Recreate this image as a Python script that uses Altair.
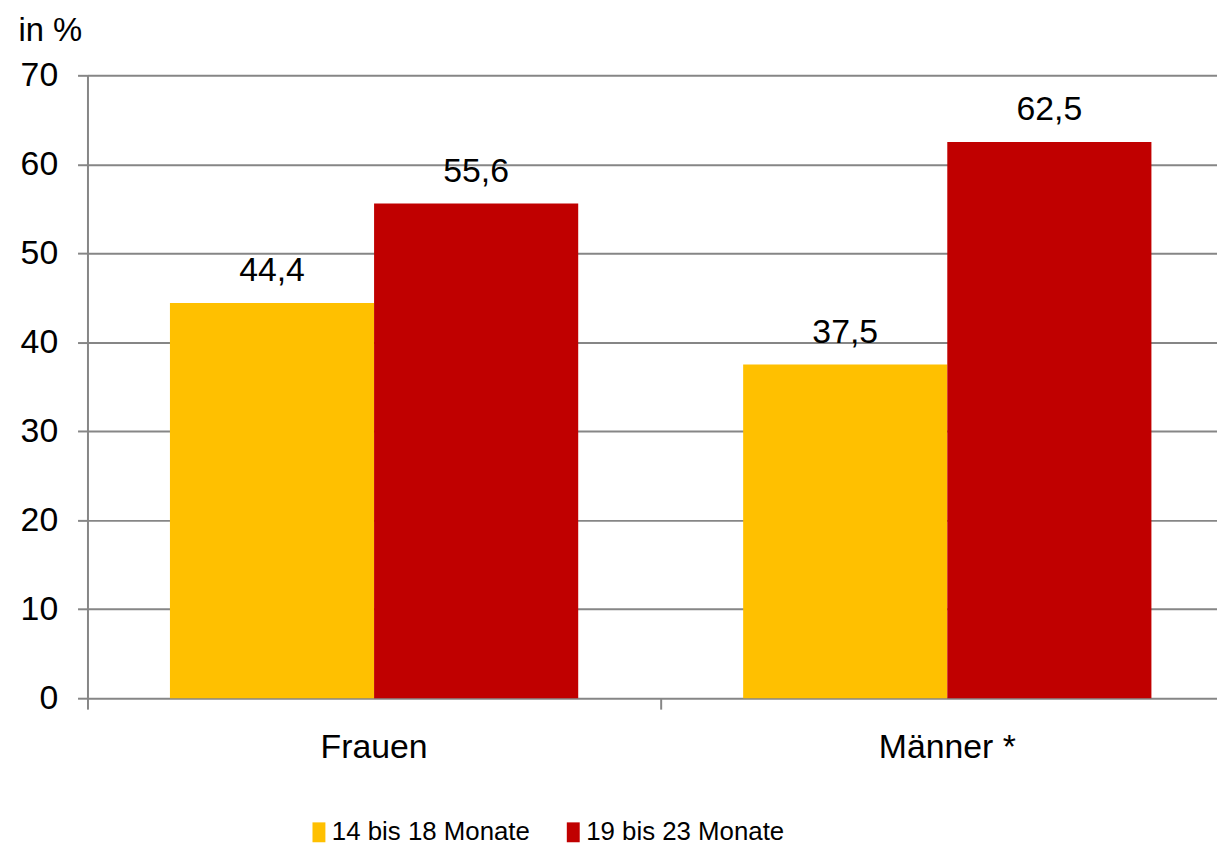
import altair as alt
import pandas as pd

categories = ["Frauen", "Männer *"]
groups = ["14 bis 18 Monate", "19 bis 23 Monate"]
values_14_18 = [44.4, 37.5]
values_19_23 = [55.6, 62.5]
colors = ["#FFC000", "#C00000"]
y_ticks = [0, 10, 20, 30, 40, 50, 60, 70]

rows = []
for i, c in enumerate(categories):
    rows.append({"Geschlecht": c, "Gruppe": groups[0], "Wert": values_14_18[i]})
    rows.append({"Geschlecht": c, "Gruppe": groups[1], "Wert": values_19_23[i]})
df = pd.DataFrame(rows)

FONT = "Liberation Sans"
GREY = "#868686"

x_enc = alt.X(
    "Geschlecht:N", sort=categories,
    scale=alt.Scale(range=[0, 1154], paddingInner=0, paddingOuter=0),
    axis=alt.Axis(title=None, domain=False, grid=False, bandPosition=0,
                  tickSize=11, tickColor=GREY, tickWidth=2,
                  labelPadding=22, labelFontSize=34, labelFont=FONT,
                  labelColor="black", labelAngle=0),
)
xoff_enc = alt.XOffset("Gruppe:N", sort=groups,
                       scale=alt.Scale(paddingOuter=0.404, paddingInner=0))
y_enc = alt.Y(
    "Wert:Q", scale=alt.Scale(domain=[0, 70], nice=False),
    axis=alt.Axis(values=y_ticks, title="in %", titleAngle=0, titleX=-70, titleY=-35,
                  titleAlign="left", titleBaseline="alphabetic", titleFontSize=33,
                  titleFontWeight="normal", titleFont=FONT, titleColor="black",
                  grid=True, gridColor=GREY, gridWidth=2,
                  domainColor=GREY, domainWidth=2,
                  tickColor=GREY, tickSize=10, tickWidth=2,
                  labelPadding=20, labelFontSize=34, labelFont=FONT, labelColor="black"),
)

bars = alt.Chart(df).mark_bar().encode(
    x=x_enc, xOffset=xoff_enc, y=y_enc,
    color=alt.Color(
        "Gruppe:N", sort=groups,
        scale=alt.Scale(domain=groups, range=colors),
        legend=alt.Legend(title=None, orient="none", legendX=220, legendY=749,
                          direction="horizontal",
                          symbolType="M-1,-1.54L1,-1.54L1,1.54L-1,1.54Z",
                          symbolSize=169, symbolStrokeWidth=0, symbolOpacity=1,
                          labelFontSize=26, labelFont=FONT,
                          labelLimit=1000,
                          labelColor="black", labelOffset=0, columnPadding=30),
    ),
)

labels = alt.Chart(df).transform_calculate(
    label="replace(format(datum.Wert, '.1f'), '.', ',')"
).mark_text(dy=-22, baseline="alphabetic", fontSize=34, font=FONT, color="black").encode(
    x=alt.X("Geschlecht:N", sort=categories), xOffset=alt.XOffset("Gruppe:N", sort=groups),
    y=alt.Y("Wert:Q"), text="label:N",
)

chart = alt.layer(bars, labels).properties(
    width=1137, height=627,
    padding={"left": 80, "top": 65, "right": 0, "bottom": 145},
    autosize=alt.AutoSizeParams(type="none"),
).configure_view(stroke=None)

chart.save("out.html", embed_options={"renderer": "svg", "actions": False})
